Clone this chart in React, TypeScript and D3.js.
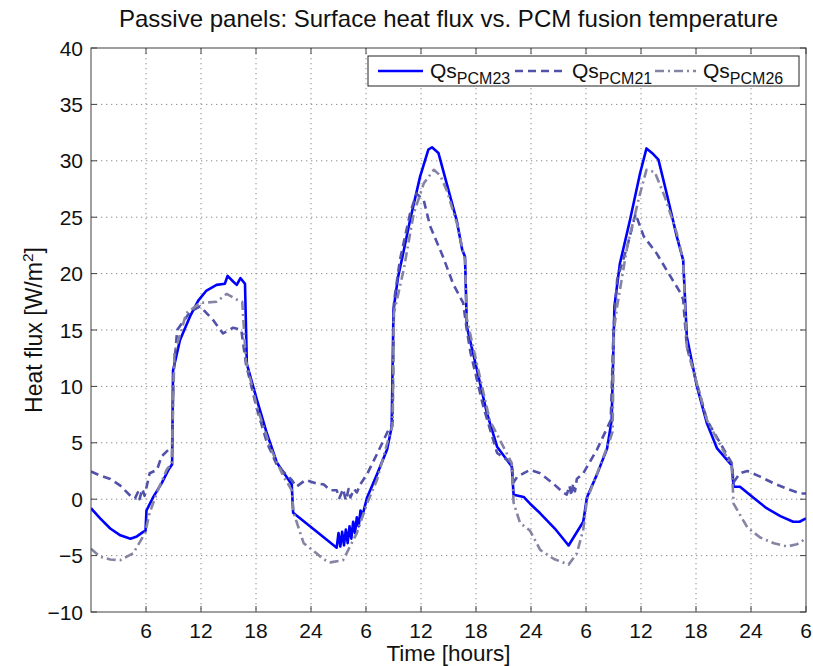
import React from "react";
import * as d3 from "d3";

// hour ticks (labels wrap every 24 h)
const hourTicks = [6, 12, 18, 24, 30, 36, 42, 48, 54, 60, 66, 72, 78];
const fluxTicks = [-10, -5, 0, 5, 10, 15, 20, 25, 30, 35, 40];

// [hour, heat flux W/m2]
const qsPCM23: [number, number][] = [
  [0, -0.8], [1, -1.7], [2.1, -2.6], [3.2, -3.2], [4.3, -3.5], [5, -3.3], [5.7, -2.9], [5.95, -2.8],
  [6.05, -1.0], [6.8, 0.2], [7.7, 1.4], [8.45, 2.6], [8.85, 3.1], [8.95, 11.4], [9.7, 14.1],
  [10.8, 16.2], [11.7, 17.6], [12.6, 18.5], [13.7, 19.0], [14.6, 19.1], [14.9, 19.8], [15.5, 19.3],
  [15.9, 19.0], [16.3, 19.6], [16.8, 19.1], [17.0, 12.0], [18.1, 8.8], [19.2, 5.8], [20.3, 3.2],
  [21.9, 1.3], [22.05, -1.2], [24.5, -2.8], [26.8, -4.3], [27.0, -3.0], [27.2, -4.2], [27.4, -2.9],
  [27.6, -4.1], [27.8, -2.7], [28.0, -3.9], [28.2, -2.4], [28.4, -3.5], [28.6, -2.0], [28.8, -3.0],
  [29.0, -1.6], [29.2, -2.4], [29.4, -1.0], [29.6, -1.5], [30.1, 0.1], [31.2, 2.2], [32.3, 4.4],
  [32.8, 6.4], [33.0, 16.8], [33.5, 19.7], [33.9, 21.2], [34.8, 24.7], [35.9, 28.6], [36.8, 31.0],
  [37.2, 31.2], [37.9, 30.7], [38.6, 28.6], [39.9, 24.7], [40.5, 22.1], [40.8, 21.5], [41.0, 15.3],
  [41.7, 12.9], [43.2, 7.6], [44.3, 4.65], [45.9, 2.9], [46.1, 0.4], [47.2, 0.2], [47.9, -0.4],
  [49.0, -1.25], [50.6, -2.6], [52.1, -4.1], [53.7, -2.0], [54.1, 0.15], [55.2, 2.2], [56.3, 4.5],
  [56.8, 7.0], [57.1, 17.1], [57.7, 20.9], [58.8, 24.75], [59.9, 28.9], [60.6, 31.1], [61.2, 30.7],
  [61.9, 30.1], [62.8, 27.1], [63.9, 23.3], [64.6, 21.2], [65.0, 14.4], [66.1, 10.0], [67.2, 6.7],
  [68.3, 4.5], [69.9, 3.0], [70.1, 1.1], [70.8, 1.1], [72.3, 0.1], [73.7, -0.8], [75.2, -1.5],
  [76.6, -2.0], [77.3, -2.0], [78, -1.7],
];

const qsPCM21: [number, number][] = [
  [0, 2.45], [1, 2.1], [2.1, 1.8], [3.2, 1.2], [4.3, 0.3], [4.8, 0.07], [5.1, 0.6], [5.3, 0.0],
  [5.6, 0.9], [5.85, 0.3], [6.4, 2.3], [7.2, 2.6], [7.7, 3.8], [8.6, 4.5], [8.85, 4.7], [9.0, 11.0],
  [9.4, 15.0], [10.8, 16.6], [11.9, 17.1], [13.3, 15.9], [14.4, 14.7], [15.5, 15.2], [16.4, 15.0],
  [16.9, 12.0], [18.1, 8.0], [19.2, 5.0], [20.3, 3.0], [21.9, 1.7], [22.4, 1.1], [23.4, 1.7],
  [24.6, 1.4], [25.4, 1.3], [26.1, 0.8], [26.8, 0.8], [27.1, 0.1], [27.5, 0.9], [27.8, -0.1],
  [28.1, 0.9], [28.3, 0.15], [28.7, 0.9], [29.0, 0.6], [29.4, 1.35], [30.1, 2.2], [31.2, 4.0],
  [32.6, 6.4], [32.9, 6.6], [33.05, 17.5], [33.7, 21.2], [34.8, 25.3], [35.5, 27.1], [36.3, 26.5],
  [37.0, 24.2], [38.4, 21.5], [39.5, 19.1], [40.6, 17.4], [41.0, 15.0], [41.4, 13.0], [42.8, 8.2],
  [44.3, 4.1], [45.9, 3.2], [46.1, 1.5], [46.5, 2.0], [47.9, 2.6], [49.0, 2.3], [50.4, 1.4],
  [51.5, 0.6], [51.9, 0.4], [52.2, 1.2], [52.4, 0.3], [52.6, 1.4], [52.8, 0.7], [53.0, 1.8],
  [53.7, 2.3], [55.2, 4.4], [56.7, 7.0], [57.0, 15.0], [57.4, 19.5], [58.5, 22.4], [59.4, 25.3],
  [60.3, 23.3], [61.7, 21.8], [62.8, 20.3], [64.3, 18.3], [64.6, 17.7], [65.0, 13.5], [67.2, 7.0],
  [69.9, 3.2], [70.1, 1.5], [70.8, 2.3], [71.6, 2.5], [73.0, 2.0], [74.5, 1.4], [76.0, 0.9],
  [77.4, 0.5], [78, 0.5],
];

const qsPCM26: [number, number][] = [
  [0, -4.4], [1, -5.1], [2.1, -5.35], [3.2, -5.4], [4.6, -4.8], [5.9, -3.0], [6.4, -1.2], [7.3, 0.8],
  [8.25, 2.6], [8.8, 3.2], [9.1, 12.9], [10.4, 16.5], [11.9, 17.4], [13.7, 17.5], [14.8, 18.2],
  [15.9, 17.7], [16.5, 17.5], [16.9, 12.3], [18.1, 8.2], [19.6, 4.5], [21.0, 2.0], [21.9, 0.8],
  [22.1, -1.2], [23.2, -3.9], [24.6, -4.8], [25.3, -5.3], [26.1, -5.6], [27.5, -5.4], [29.0, -3.0],
  [30.1, -0.4], [31.2, 1.7], [32.6, 5.8], [32.9, 6.5], [33.05, 16.5], [34.1, 20.3], [35.2, 25.3],
  [36.3, 28.0], [37.4, 29.2], [38.1, 28.7], [38.8, 27.4], [39.9, 24.5], [40.8, 21.2], [41.0, 16.0],
  [42.1, 12.0], [43.5, 7.0], [45.9, 3.2], [46.1, -0.3], [46.8, -2.1], [47.9, -2.8], [49.0, -4.5],
  [50.5, -5.3], [52.1, -5.8], [53.0, -4.8], [53.7, -2.7], [54.1, -0.05], [55.5, 2.9], [56.6, 5.25],
  [56.9, 6.0], [57.05, 15.0], [57.4, 17.1], [58.5, 22.4], [59.9, 27.1], [60.6, 29.2], [61.5, 29.0],
  [62.6, 26.8], [63.9, 23.6], [64.6, 21.2], [65.0, 13.5], [67.2, 7.0], [69.9, 2.9], [70.1, -0.4],
  [71.6, -2.5], [73.0, -3.4], [74.5, -3.9], [75.9, -4.2], [77.0, -4.0], [78, -3.5],
];

const seriesNames = ["PCM23", "PCM21", "PCM26"];

const W = 813;
const H = 666;
const margin = { top: 48, right: 7, bottom: 54, left: 91 };
const font = "'Liberation Sans', Arial, Helvetica, sans-serif";

const styles = [
  { color: "#0000ff", dash: "none" },
  { color: "#5252aa", dash: "8,5" },
  { color: "#8585a3", dash: "9,4,2,4" },
];

export default function App() {
  const x = d3.scaleLinear().domain([0, 78]).range([margin.left, W - margin.right]);
  const y = d3.scaleLinear().domain([-10, 40]).range([H - margin.bottom, margin.top]);
  const line = d3
    .line<[number, number]>()
    .x((d) => x(d[0]))
    .y((d) => y(d[1]));

  const x0 = x.range()[0];
  const x1 = x.range()[1];
  const yTop = y.range()[1];
  const yBot = y.range()[0];
  const tickLen = 6;
  const data = [qsPCM23, qsPCM21, qsPCM26];

  const hourLabel = (h: number) => String(h % 24 === 0 ? 24 : h % 24);

  // legend layout
  const lgY = 71;
  const lgItems = [
    { x1: 378, x2: 423, tx: 430 },
    { x1: 515, x2: 567, tx: 572 },
    { x1: 655, x2: 696, tx: 703 },
  ];

  return (
    <svg
      width={W}
      height={H}
      style={{ position: "absolute", left: 0, top: 0, background: "white" }}
      fontFamily={font}
    >
      <rect width={W} height={H} fill="white" />
      <defs>
        <clipPath id="plot-clip">
          <rect x={x0} y={yTop} width={x1 - x0} height={yBot - yTop} />
        </clipPath>
      </defs>

      {/* dotted grid */}
      <g stroke="#8c8c8c" strokeWidth={1} strokeDasharray="1.3,3.7">
        {hourTicks
          .filter((h) => x(h) < x1 - 1)
          .map((h) => (
            <line key={"gx" + h} x1={x(h)} x2={x(h)} y1={yTop} y2={yBot} />
          ))}
        {fluxTicks
          .filter((v) => y(v) > yTop + 1 && y(v) < yBot - 1)
          .map((v) => (
            <line key={"gy" + v} x1={x0} x2={x1} y1={y(v)} y2={y(v)} />
          ))}
      </g>

      {/* series */}
      <g clipPath="url(#plot-clip)" fill="none" strokeLinejoin="round">
        {data.map((d, i) => (
          <path
            key={seriesNames[i]}
            d={line(d) || ""}
            stroke={styles[i].color}
            strokeWidth={2.6}
            strokeDasharray={styles[i].dash}
          />
        ))}
      </g>

      {/* box + inward ticks */}
      <g stroke="#404040" strokeWidth={1} fill="none">
        <rect x={x0} y={yTop} width={x1 - x0} height={yBot - yTop} />
        {hourTicks.map((h) => (
          <g key={"tx" + h}>
            <line x1={x(h)} x2={x(h)} y1={yBot} y2={yBot - tickLen} />
            <line x1={x(h)} x2={x(h)} y1={yTop} y2={yTop + tickLen} />
          </g>
        ))}
        {fluxTicks.map((v) => (
          <g key={"ty" + v}>
            <line x1={x0} x2={x0 + tickLen} y1={y(v)} y2={y(v)} />
            <line x1={x1} x2={x1 - tickLen} y1={y(v)} y2={y(v)} />
          </g>
        ))}
      </g>

      {/* tick labels */}
      <g fontSize={21} fill="#111">
        {hourTicks.map((h) => (
          <text key={"lx" + h} x={x(h)} y={yBot + 26} textAnchor="middle">
            {hourLabel(h)}
          </text>
        ))}
        {fluxTicks.map((v) => (
          <text key={"ly" + v} x={x0 - 8} y={y(v) + 7.5} textAnchor="end">
            {v < 0 ? "\u2212" + Math.abs(v) : v}
          </text>
        ))}
      </g>

      {/* axis labels and title */}
      <text x={(x0 + x1) / 2} y={H - 5} textAnchor="middle" fontSize={22.5} fill="#111">
        Time [hours]
      </text>
      <text
        transform={`translate(42,${(yTop + yBot) / 2}) rotate(-90)`}
        textAnchor="middle"
        fontSize={23}
        fill="#111"
      >
        Heat flux [W/m
        <tspan fontSize={15.5} dy={-9}>
          2
        </tspan>
        <tspan dy={9}>]</tspan>
      </text>
      <text x={(x0 + x1) / 2} y={27} textAnchor="middle" fontSize={24} fill="#111">
        Passive panels: Surface heat flux vs. PCM fusion temperature
      </text>

      {/* legend */}
      <rect x={368} y={56} width={431} height={30} fill="white" stroke="#222" strokeWidth={1} />
      {lgItems.map((it, i) => (
        <g key={"lg" + i}>
          <line
            x1={it.x1}
            x2={it.x2}
            y1={lgY}
            y2={lgY}
            stroke={styles[i].color}
            strokeWidth={2.6}
            strokeDasharray={styles[i].dash}
          />
          <text x={it.tx} y={78} fontSize={21} fill="#111">
            Qs
            <tspan fontSize={16} dy={6}>
              {seriesNames[i]}
            </tspan>
          </text>
        </g>
      ))}
    </svg>
  );
}
